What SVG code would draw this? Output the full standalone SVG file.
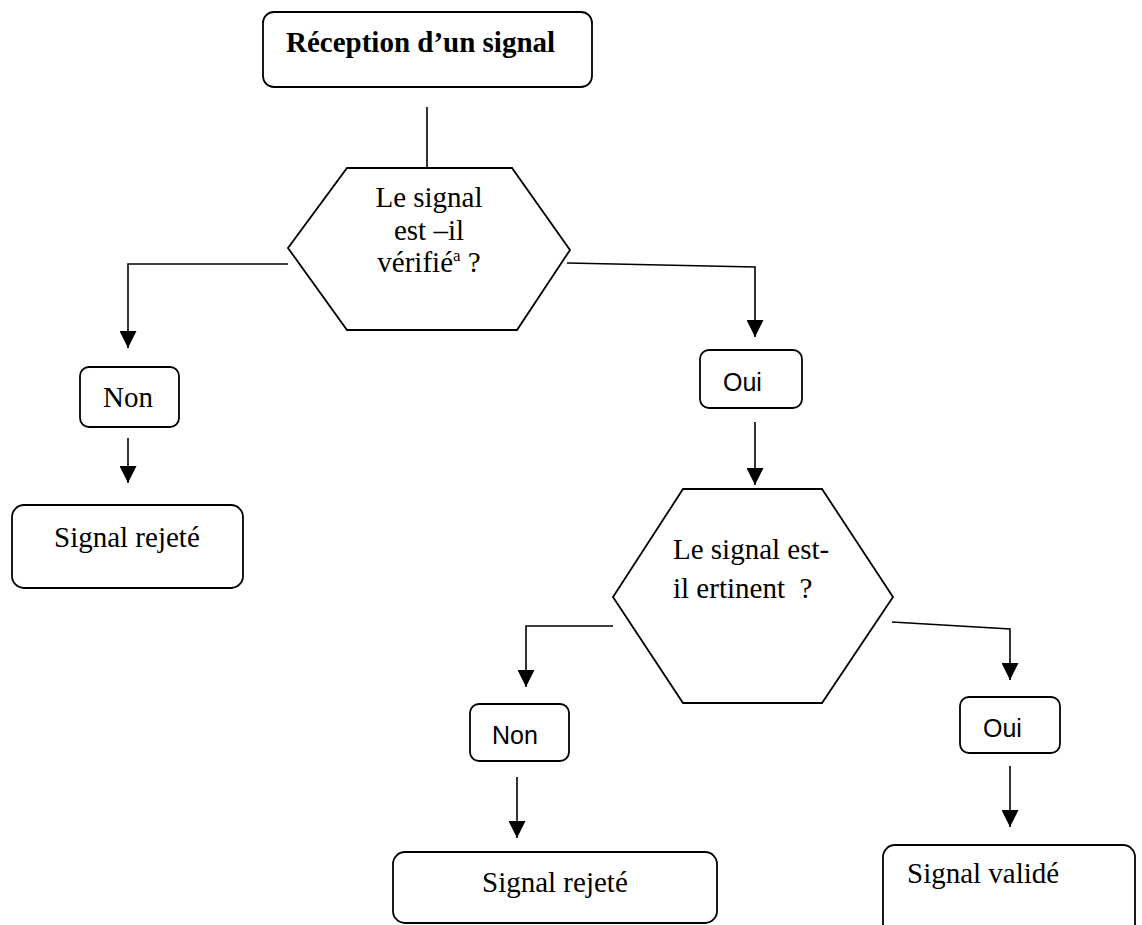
<svg xmlns="http://www.w3.org/2000/svg" width="1142" height="925" viewBox="0 0 1142 925">
<style>
.box{fill:#fff;stroke:#000;stroke-width:1.8}
.hex{fill:#fff;stroke:#000;stroke-width:1.8}
.ser{font-family:"Liberation Serif","Times New Roman",serif;font-size:29px;fill:#000}
.san{font-family:"Liberation Sans",Arial,sans-serif;font-size:25px;fill:#000}
.con{fill:none;stroke:#000;stroke-width:1.6}
</style>
<defs>
<marker id="arr" markerUnits="userSpaceOnUse" markerWidth="17" markerHeight="17" refX="17" refY="8.5" orient="auto">
<path d="M0,0 L17,8.5 L0,17 z" fill="#000"/>
</marker>
</defs>
<rect width="1142" height="925" fill="#fff"/>
<g id="connectors">
<line class="con" x1="427" y1="107" x2="427" y2="168"/>
<polyline class="con" points="288,264 128,264 128,348" marker-end="url(#arr)"/>
<polyline class="con" points="567,263 755,267 755,337" marker-end="url(#arr)"/>
<line class="con" x1="128" y1="438" x2="128" y2="483" marker-end="url(#arr)"/>
<line class="con" x1="755" y1="422" x2="755" y2="485" marker-end="url(#arr)"/>
<polyline class="con" points="613,626 526,626 526,687" marker-end="url(#arr)"/>
<polyline class="con" points="892,622 1010,629 1010,680" marker-end="url(#arr)"/>
<line class="con" x1="517" y1="777" x2="517" y2="838" marker-end="url(#arr)"/>
<line class="con" x1="1010" y1="766" x2="1010" y2="827" marker-end="url(#arr)"/>
</g>
<g id="start">
<rect class="box" x="263" y="12" width="329" height="75" rx="11"/>
<text class="ser" x="286" y="52" font-weight="bold">Réception d’un signal</text>
</g>
<g id="decision1">
<polygon class="hex" points="347,168 512,168 570,250 517,330 347,330 288,248"/>
<text class="ser" text-anchor="middle"><tspan x="429" y="207">Le signal</tspan><tspan x="429" y="240">est –il</tspan><tspan x="429" y="272">vérifié<tspan font-size="17" dy="-11">a</tspan><tspan dy="11"> ?</tspan></tspan></text>
</g>
<g id="non1">
<rect class="box" x="80" y="367" width="99" height="60" rx="9"/>
<text class="ser" x="128" y="407" text-anchor="middle">Non</text>
</g>
<g id="rejet1">
<rect class="box" x="12" y="505" width="231" height="83" rx="12"/>
<text class="ser" x="54" y="547">Signal rejeté</text>
</g>
<g id="oui1">
<rect class="box" x="700" y="350" width="102" height="58" rx="9"/>
<text class="san" x="723" y="391">Oui</text>
</g>
<g id="decision2">
<polygon class="hex" points="683,489 822,489 893,597 822,703 683,703 613,597"/>
<text class="ser" style="white-space:pre"><tspan x="673" y="559">Le signal est-</tspan><tspan x="673" y="598">il ertinent  ?</tspan></text>
</g>
<g id="non2">
<rect class="box" x="470" y="704" width="99" height="57" rx="9"/>
<text class="san" x="492" y="744">Non</text>
</g>
<g id="rejet2">
<rect class="box" x="393" y="852" width="324" height="71" rx="12"/>
<text class="ser" x="482" y="892">Signal rejeté</text>
</g>
<g id="oui2">
<rect class="box" x="960" y="697" width="100" height="56" rx="9"/>
<text class="san" x="983" y="737">Oui</text>
</g>
<g id="valide">
<rect class="box" x="883" y="845" width="252" height="100" rx="12"/>
<text class="ser" x="907" y="883">Signal validé</text>
</g>
</svg>
